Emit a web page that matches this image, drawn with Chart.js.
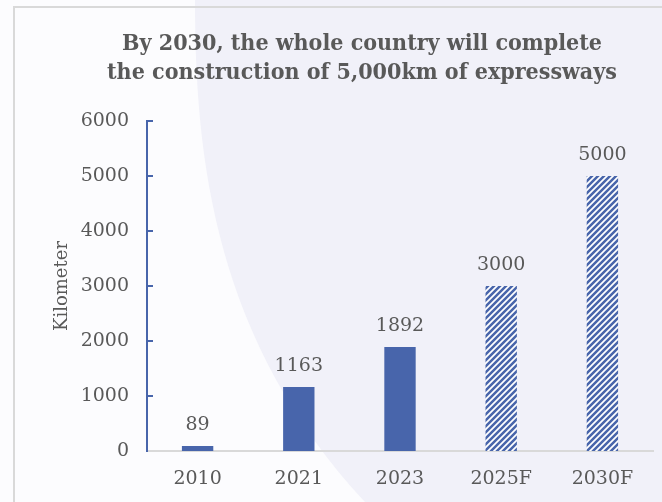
<!DOCTYPE html>
<html>
<head>
<meta charset="utf-8">
<script src="https://cdn.jsdelivr.net/npm/chart.js@4.4.0/dist/chart.umd.min.js"></script>
<style>
  html, body { margin: 0; padding: 0; background: #f1f1f9; }
</style>
</head>
<body>
<canvas id="roadChart" width="662" height="502"></canvas>
<script>
const years = ['2010', '2021', '2023', '2025F', '2030F'];
const kilometers = [89, 1163, 1892, 3000, 5000];
const isForecast = [false, false, false, true, true];
const yTicks = [0, 1000, 2000, 3000, 4000, 5000, 6000];
const titleLines = [
  'By 2030, the whole country will complete',
  'the construction of 5,000km of expressways'
];

const blue = '#4865ab';
const grey = '#595959';
const serif = "'DejaVu Serif', serif";
const titleFont = "bold 23px 'DejaVu Serif Condensed', 'DejaVu Serif', serif";

const canvas = document.getElementById('roadChart');
const ctx = canvas.getContext('2d');

// white/blue diagonal stripes for the forecast years
function makeHatch() {
  const tile = document.createElement('canvas');
  tile.width = 6;
  tile.height = 6;
  const g = tile.getContext('2d');
  g.fillStyle = '#ffffff';
  g.fillRect(0, 0, 6, 6);
  g.strokeStyle = blue;
  g.lineWidth = 2.5;
  g.beginPath();
  g.moveTo(-3, 3); g.lineTo(3, -3);
  g.moveTo(0, 6); g.lineTo(6, 0);
  g.moveTo(3, 9); g.lineTo(9, 3);
  g.stroke();
  return ctx.createPattern(tile, 'repeat');
}
const hatch = makeHatch();

// page background, the lighter sweep on the left and the outer frame
const backdrop = {
  id: 'backdrop',
  beforeDraw(chart) {
    const c = chart.ctx;
    c.save();
    c.fillStyle = '#f1f1f9';
    c.fillRect(0, 0, chart.width, chart.height);
    c.fillStyle = '#fcfcfe';
    c.beginPath();
    c.moveTo(0, 0);
    c.lineTo(195, 0);
    c.bezierCurveTo(195, 160, 215, 340, 365, 502);
    c.lineTo(0, 502);
    c.closePath();
    c.fill();
    c.strokeStyle = '#d9d9d9';
    c.lineWidth = 2;
    c.strokeRect(14, 7, 700, 600);
    c.restore();
  }
};

// two-line heading, centred a little left of the plot
const heading = {
  id: 'heading',
  afterDraw(chart) {
    const c = chart.ctx;
    c.save();
    c.font = titleFont;
    c.fillStyle = grey;
    c.textAlign = 'center';
    c.textBaseline = 'middle';
    titleLines.forEach((line, i) => c.fillText(line, 362, 44 + i * 29));
    c.restore();
  }
};

// short tick marks pointing into the plot from the value axis
const innerTicks = {
  id: 'innerTicks',
  afterDraw(chart) {
    const y = chart.scales.y;
    const c = chart.ctx;
    c.save();
    c.strokeStyle = blue;
    c.lineWidth = 2;
    c.beginPath();
    y.ticks.forEach(t => {
      if (t.value === 0) return;
      const py = Math.round(y.getPixelForValue(t.value));
      c.moveTo(y.right, py);
      c.lineTo(y.right + 6, py);
    });
    c.stroke();
    c.restore();
  }
};

// value printed above each bar
const barValues = {
  id: 'barValues',
  afterDatasetsDraw(chart) {
    const c = chart.ctx;
    const meta = chart.getDatasetMeta(0);
    c.save();
    c.font = '19px ' + serif;
    c.fillStyle = grey;
    c.textAlign = 'center';
    c.textBaseline = 'middle';
    meta.data.forEach((bar, i) => {
      c.fillText(String(kilometers[i]), bar.x, bar.y - 21);
    });
    c.restore();
  }
};

new Chart(ctx, {
  type: 'bar',
  data: {
    labels: years,
    datasets: [{
      data: kilometers,
      backgroundColor: isForecast.map(f => f ? hatch : blue),
      borderWidth: 0,
      categoryPercentage: 1,
      barPercentage: 0.31
    }]
  },
  options: {
    responsive: false,
    animation: false,
    devicePixelRatio: 1,
    layout: { padding: { left: 52, right: 9, top: 121, bottom: 11 } },
    plugins: {
      legend: { display: false },
      title: { display: false },
      tooltip: { enabled: false }
    },
    scales: {
      x: {
        grid: { display: false, drawTicks: false },
        border: { color: '#d9d9d9', width: 2 },
        ticks: { color: grey, font: { family: serif, size: 19 }, padding: 17 },
        afterFit(scale) { scale.height = 40; }
      },
      y: {
        min: 0,
        max: 6000,
        grid: { display: false, drawTicks: false },
        border: { color: blue, width: 2 },
        ticks: {
          color: grey,
          font: { family: serif, size: 19 },
          padding: 18,
          callback: v => String(v)
        },
        afterBuildTicks(scale) { scale.ticks = yTicks.map(v => ({ value: v })); },
        afterFit(scale) { scale.width = 95; },
        title: {
          display: true,
          text: 'Kilometer',
          color: grey,
          font: { family: serif, size: 18 },
          padding: { top: 0, bottom: 0 }
        }
      }
    }
  },
  plugins: [backdrop, heading, innerTicks, barValues]
});
</script>
</body>
</html>
